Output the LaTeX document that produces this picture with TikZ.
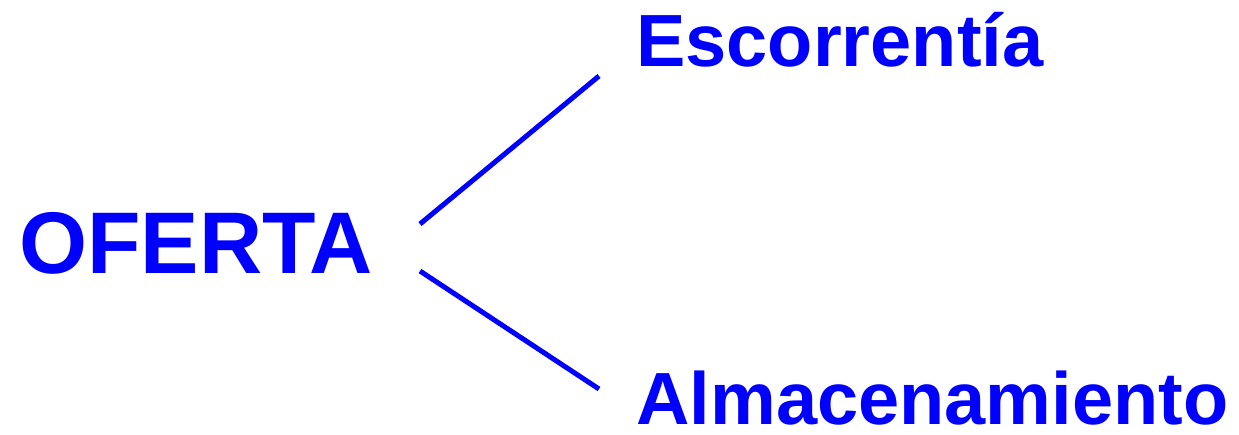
\documentclass[tikz,border=0pt]{standalone}
\usepackage{fontspec}
\setmainfont{Liberation Sans}
\definecolor{azul}{RGB}{0,0,255}
\tikzset{
  rotulo/.style={anchor=base west,inner sep=0pt,text=azul,font=\bfseries\fontsize{42.1}{42.1}\selectfont},
  rama/.style={draw=azul,line width=2.85pt}
}
\begin{document}
\begin{tikzpicture}[x=0.02cm,y=-0.02cm]
\useasboundingbox (0,0) rectangle (1239,434);
\node[rotulo,font=\bfseries\fontsize{49.8}{49.8}\selectfont] (oferta) at (19,273) {OFERTA};
\node[rotulo] (escorrentia) at (636,66) {Escorrentía};
\node[rotulo] (almacen) at (636,424) {Almacenamiento};
\coordinate (o1) at (420,224);
\coordinate (o2) at (420,271);
\coordinate (e1) at (599,76);
\coordinate (a1) at (599,389);
\draw[rama] (o1) -- (e1);
\draw[rama] (o2) -- (a1);
\end{tikzpicture}
\end{document}
